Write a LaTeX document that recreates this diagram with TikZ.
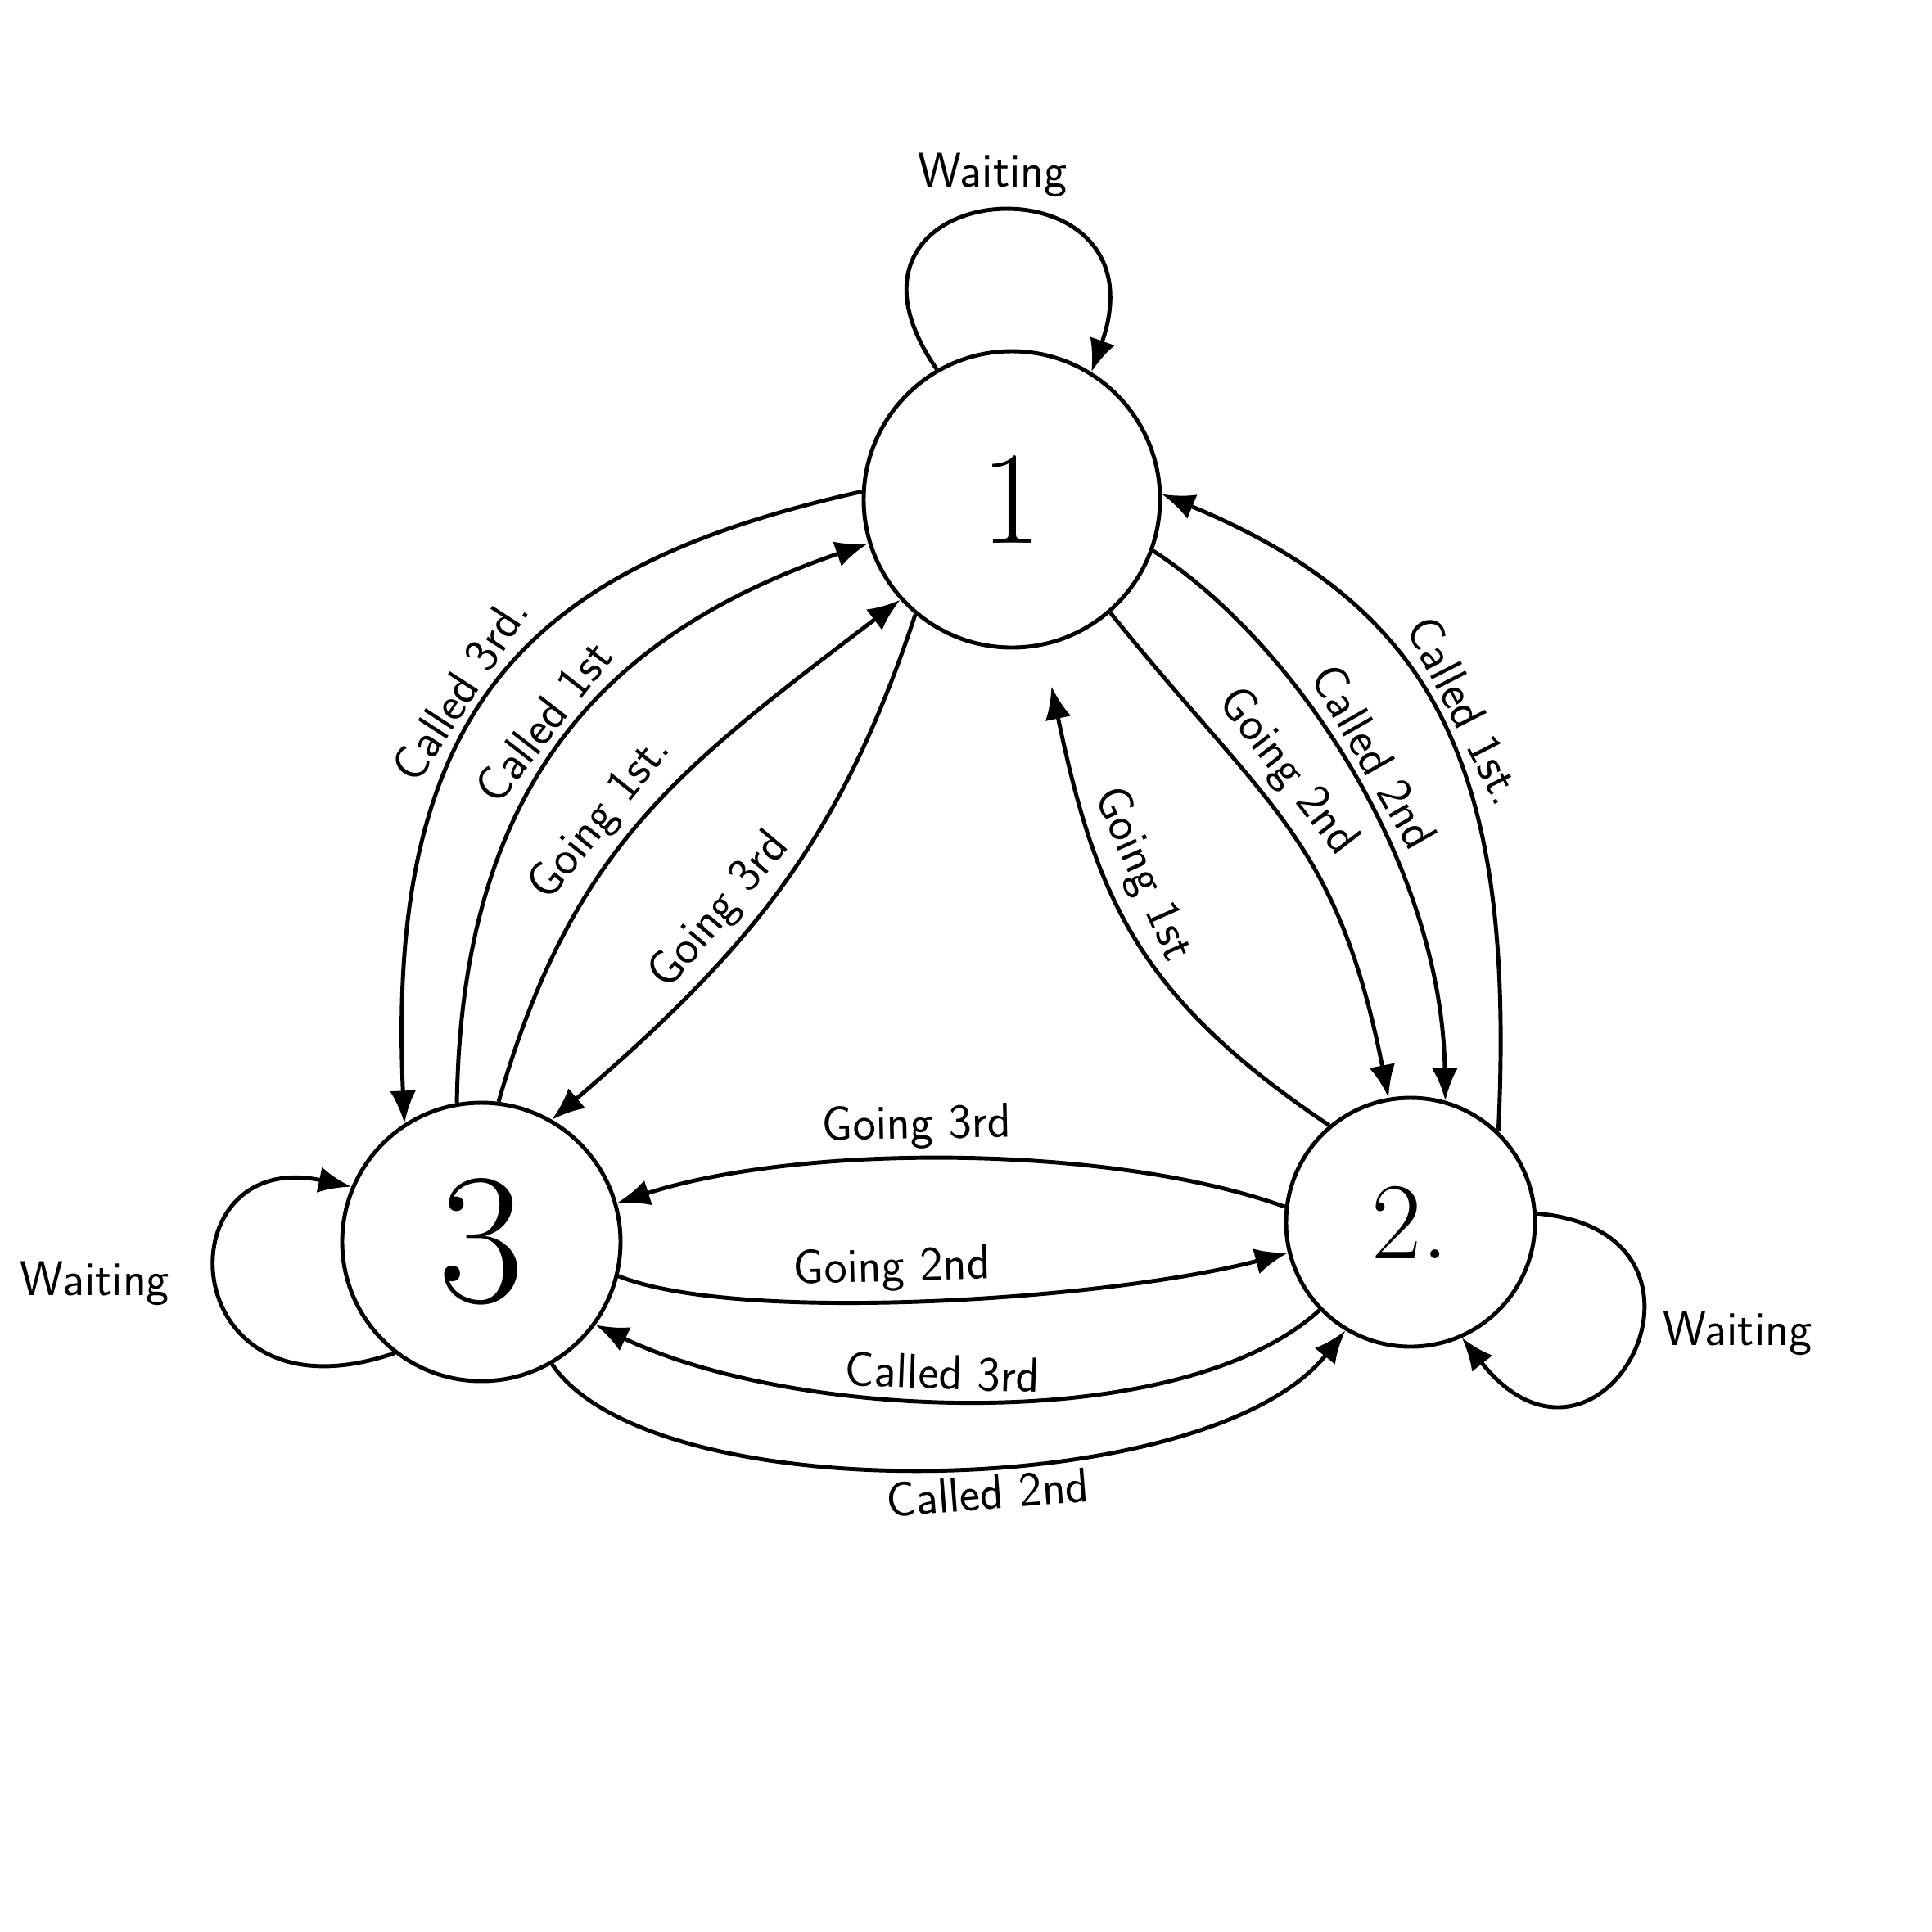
\documentclass[tikz,border=0pt]{standalone}
\usepackage{tikz}
\usetikzlibrary{arrows.meta}

\tikzset{
  statebox/.style={circle, draw, line width=1.4pt, inner sep=0pt},
  flow/.style={line width=1.4pt, -{Latex[length=4mm,width=3.2mm]}},
  edgetext/.style={font=\sffamily\fontsize{17}{17}\selectfont, sloped, inner sep=3pt},
  looptext/.style={font=\sffamily\fontsize{17}{17}\selectfont, inner sep=2pt}
}

\begin{document}
\begin{tikzpicture}
\useasboundingbox (0,0) rectangle (23.6,-23.6);

% states
\node[statebox, minimum size=3.62cm, font=\fontsize{46}{46}\selectfont] (n1) at (12.36,-6.10) {1};
\node[statebox, minimum size=3.04cm, font=\fontsize{38}{38}\selectfont] (n2) at (17.23,-14.93) {2.};
\node[statebox, minimum size=3.40cm, font=\fontsize{65}{65}\selectfont] (n3) at (5.88,-15.17) {3};

% waiting loops
\draw[flow] (n1.120) .. controls (9.78,-2.11) and (14.30,-1.81) .. (n1.58) node[looptext, pos=0.5, above=1mm] (w1) {Waiting};
\draw[flow] (n2.4) .. controls (21.37,-15.05) and (19.57,-18.51) .. (n2.294) node[looptext, pos=0.45, right=2mm] (w2) {Waiting};
\draw[flow] (n3.232) .. controls (2.11,-17.46) and (1.96,-14.00) .. (n3.157) node[looptext, pos=0.5, left=5mm] (w3) {Waiting};

% between 1 and 3
\draw[flow] (n1.177) .. controls (6.59,-6.89) and (4.70,-8.50) .. (n3.123) node[edgetext, pos=0.55, above] (c3l) {Called 3rd.};
\draw[flow] (n3.100) .. controls (5.64,-9.60) and (7.37,-7.75) .. (n1.197) node[edgetext, pos=0.5, above] (c1l) {Called 1st};
\draw[flow] (n3.83) .. controls (7.00,-10.31) and (8.31,-9.38) .. (n1.222) node[edgetext, pos=0.45, above] (g1l) {Going 1st.};
\draw[flow] (n1.230) .. controls (10.28,-10.23) and (9.18,-11.59) .. (n3.60) node[edgetext, pos=0.6, above] (g3l) {Going 3rd};

% between 1 and 2
\draw[flow] (n2.46) .. controls (18.51,-9.48) and (17.61,-7.45) .. (n1.2) node[edgetext, pos=0.5, above] (c1r) {Called 1st.};
\draw[flow] (n1.340) .. controls (15.80,-7.83) and (17.61,-10.54) .. (n2.74) node[edgetext, pos=0.5, above] (c2r) {Called 2nd};
\draw[flow] (n1.311) .. controls (15.47,-9.86) and (16.33,-10.23) .. (n2.100) node[edgetext, pos=0.4, above] (g2r) {Going 2nd};
\draw[flow, shorten >=5mm] (n2.130) .. controls (13.92,-12.19) and (13.39,-10.99) .. (n1.282) node[edgetext, pos=0.6, above] (g1r) {Going 1st};

% between 2 and 3
\draw[flow] (n2.173) .. controls (13.55,-13.97) and (9.78,-13.97) .. (n3.16) node[edgetext, pos=0.55, above] (g3b) {Going 3rd};
\draw[flow] (n3.346) .. controls (9.03,-16.18) and (13.55,-15.88) .. (n2.194) node[edgetext, pos=0.45, above] (g2b) {Going 2nd};
\draw[flow] (n2.224) .. controls (14.45,-17.53) and (9.78,-17.38) .. (n3.324) node[edgetext, pos=0.55, above] (c3b) {Called 3rd};
\draw[flow] (n3.300) .. controls (7.98,-18.48) and (14.75,-18.36) .. (n2.239) node[edgetext, pos=0.55, below] (c2b) {Called 2nd};
\end{tikzpicture}
\end{document}
